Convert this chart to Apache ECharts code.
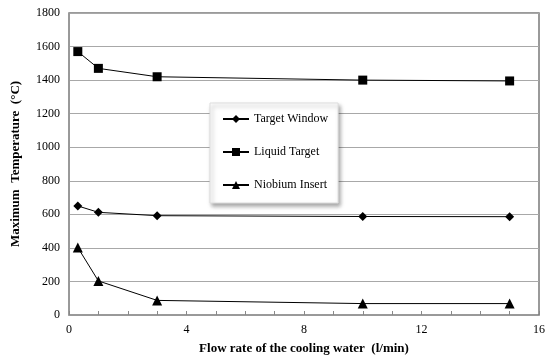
<!DOCTYPE html>
<html>
<head>
<meta charset="utf-8">
<script src="https://cdn.jsdelivr.net/npm/echarts@6/dist/echarts.min.js"></script>
<style>html,body{margin:0;padding:0;background:#fff;}#c{width:550px;height:363px;}</style>
</head>
<body>
<div id="c"></div>
<script>
var flowRates = [0.3, 1, 3, 10, 15];
var targetWindow = [650, 612, 592, 587, 586];
var liquidTarget = [1570, 1470, 1420, 1400, 1395];
var niobiumInsert = [402, 203, 87, 68, 68];
var seriesNames = ['Target Window', 'Liquid Target', 'Niobium Insert'];

function pairs(ys) { return flowRates.map(function (x, i) { return [x, ys[i]]; }); }

var font = '"Liberation Serif", "DejaVu Serif", serif';
var chart = echarts.init(document.getElementById('c'));
var lineStyle = { color: '#000', width: 1 };
function mk(name, data, symbol, size) {
  return {
    name: name, type: 'line', data: pairs(data), symbol: symbol, symbolSize: size,
    itemStyle: { color: '#000' }, lineStyle: lineStyle, animation: false
  };
}
chart.setOption({
  animation: false,
  textStyle: { fontFamily: font },
  grid: { left: 69, right: 11, top: 13, bottom: 48, show: true, borderColor: '#7a7a7a', borderWidth: 1.5, backgroundColor: 'transparent' },
  legend: {
    orient: 'vertical', left: 210, top: 103,
    data: seriesNames,
    itemWidth: 26, itemHeight: 10, itemGap: 21,
    padding: [10, 10, 12, 12],
    backgroundColor: '#fff', borderColor: '#ddd', borderWidth: 1,
    shadowColor: 'rgba(0,0,0,0.35)', shadowBlur: 4, shadowOffsetX: 2, shadowOffsetY: 3,
    textStyle: { fontFamily: font, fontSize: 12, color: '#000' }
  },
  xAxis: [{
    type: 'value', min: 0, max: 16, interval: 4,
    name: 'Flow rate of the cooling water  (l/min)', nameLocation: 'middle', nameGap: 27,
    nameTextStyle: { fontFamily: font, fontSize: 13, fontWeight: 'bold', color: '#000' },
    axisLine: { lineStyle: { color: '#999', width: 1 } },
    axisTick: { show: true, inside: true, length: 4, lineStyle: { color: '#888' } },
    splitLine: { show: false },
    axisLabel: { fontFamily: font, fontSize: 12, color: '#000', margin: 9 }
  }, {
    type: 'value', min: 0, max: 16, interval: 1, position: 'bottom',
    axisLine: { show: false },
    axisTick: { show: true, inside: true, length: 4, lineStyle: { color: '#888' } },
    axisLabel: { show: false },
    splitLine: { show: false }
  }],
  yAxis: {
    type: 'value', min: 0, max: 1800, interval: 200,
    name: 'Maximum  Temperature  (°C)', nameLocation: 'middle', nameGap: 47,
    nameTextStyle: { fontFamily: font, fontSize: 13, fontWeight: 'bold', color: '#000' },
    axisLine: { show: true, lineStyle: { color: '#999', width: 1 } },
    axisTick: { show: false },
    splitLine: { lineStyle: { color: '#a8a8a8', width: 1 } },
    axisLabel: { fontFamily: font, fontSize: 12, color: '#000', margin: 9, formatter: function (v) { return String(v); } }
  },
  series: [
    mk(seriesNames[0], targetWindow, 'diamond', 9),
    mk(seriesNames[1], liquidTarget, 'rect', 9),
    mk(seriesNames[2], niobiumInsert, 'triangle', 10)
  ]
});
</script>
</body>
</html>
